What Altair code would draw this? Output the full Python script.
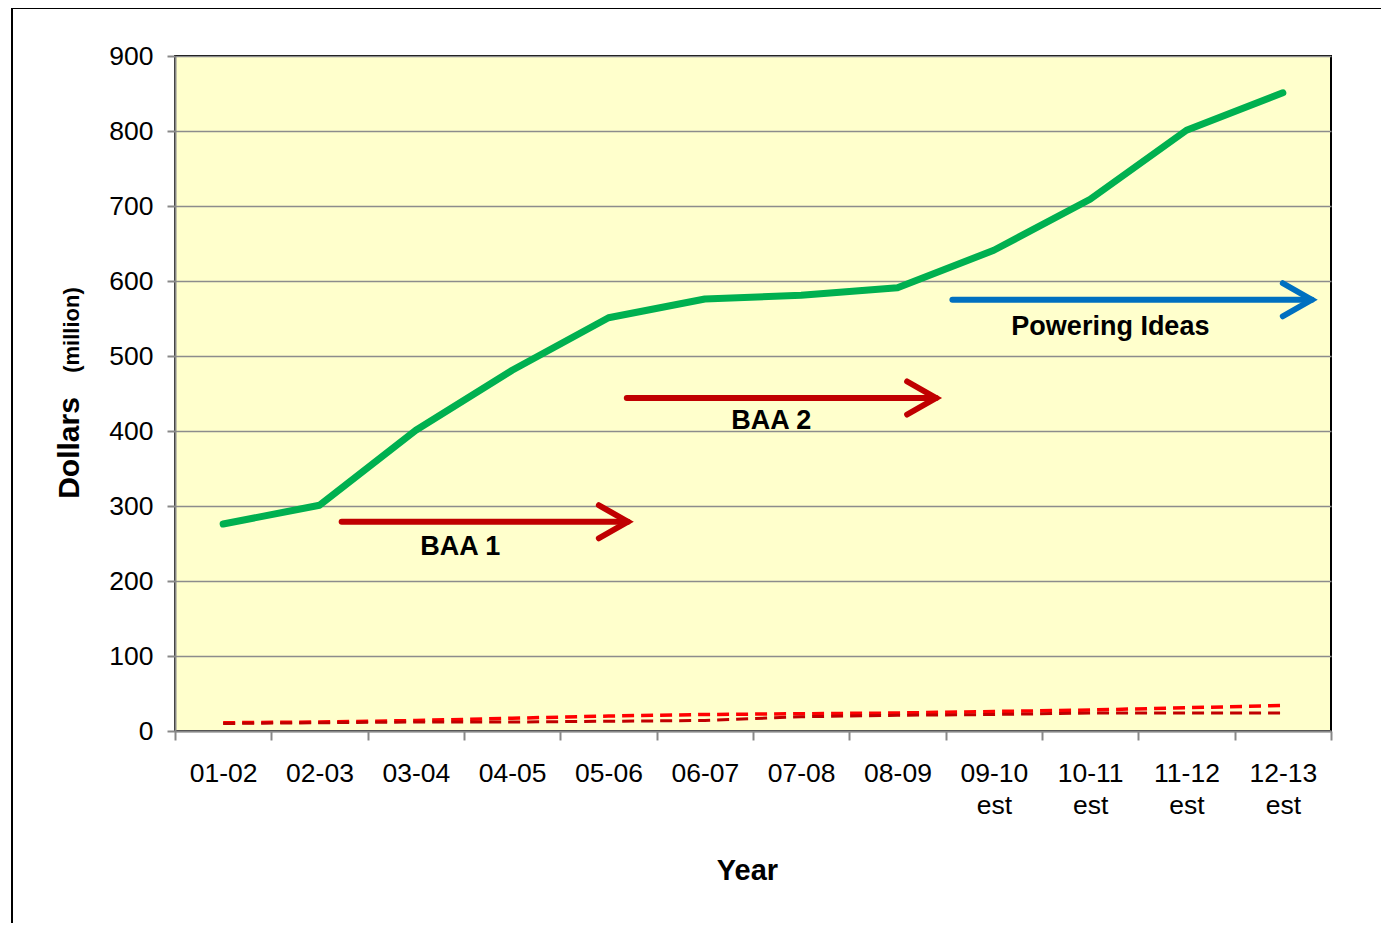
import altair as alt
import pandas as pd

years = ["01-02", "02-03", "03-04", "04-05", "05-06", "06-07", "07-08", "08-09",
         "09-10 est", "10-11 est", "11-12 est", "12-13 est"]
total = [276, 301, 401, 481, 551, 576, 581, 591, 641, 709, 801, 851]
series_bright = [11, 12, 14, 17, 20, 22, 23, 24, 26, 28, 31, 34]
series_dark = [10, 11, 12, 12, 13, 14, 19, 21, 22, 24, 24, 24]

# annotation arrows (x in category-index units, 0..12 across plot)
arrow_names = ["BAA 1", "BAA 2", "Powering Ideas"]
arrow_x0 = [1.73, 4.69, 8.07]
arrow_x1 = [4.70, 7.90, 11.80]
arrow_y = [279, 444, 575]
arrow_colors = ["#C00000", "#C00000", "#0070C0"]
label_x = [2.96, 6.19, 9.71]
label_y = [246, 413, 539]

W, H = 1156, 675
FONT = "Liberation Sans"

df = pd.DataFrame({"year": years, "total": total})
df_b = pd.DataFrame({"year": years, "v": series_bright})
df_d = pd.DataFrame({"year": years, "v": series_dark})

xs = alt.X("year:N", sort=years, title="Year",
           scale=alt.Scale(type="band", paddingInner=0, paddingOuter=0),
           axis=alt.Axis(labelAngle=0, labelExpr="split(datum.label, ' ')",
                         labelFontSize=26.5, labelLineHeight=32, labelPadding=20,
                         tickBand="extent", tickSize=9, tickColor="#888888", tickWidth=2,
                         domainColor="#888888", domainWidth=2, labelColor="#000000",
                         titleFontSize=29, titleFontWeight="bold", titlePadding=38,
                         titleX=572, titleColor="#000000", labelFont=FONT, titleFont=FONT,
                         grid=False))
ys = alt.Y("total:Q", title=None,
           scale=alt.Scale(domain=[0, 900], nice=False),
           axis=alt.Axis(values=list(range(0, 901, 100)), labelFontSize=26.5, labelPadding=14,
                         tickSize=8, tickColor="#888888", tickWidth=2,
                         domainColor="#888888", domainWidth=2, labelColor="#000000",
                         gridColor="#8c8c8c", gridWidth=1.5, labelFont=FONT))

line = alt.Chart(df).mark_line(color="#00B050", strokeWidth=7, strokeCap="round",
                               strokeJoin="round").encode(x=xs, y=ys)
bright = alt.Chart(df_b).mark_line(color="#FF0000", strokeWidth=3.5,
                                   strokeDash=[12, 7]).encode(
    x=alt.X("year:N", sort=years), y=alt.Y("v:Q"))
dark = alt.Chart(df_d).mark_line(color="#C00000", strokeWidth=3,
                                 strokeDash=[12, 7]).encode(
    x=alt.X("year:N", sort=years), y=alt.Y("v:Q"))

# arrows
rows = []
for i, n in enumerate(arrow_names):
    rows.append({"name": n, "part": "shaft", "ord": 0, "x": arrow_x0[i], "y": arrow_y[i]})
    rows.append({"name": n, "part": "shaft", "ord": 1, "x": arrow_x1[i], "y": arrow_y[i]})
    rows.append({"name": n, "part": "head", "ord": 0, "x": arrow_x1[i] - 0.3, "y": arrow_y[i] + 22})
    rows.append({"name": n, "part": "head", "ord": 1, "x": arrow_x1[i], "y": arrow_y[i]})
    rows.append({"name": n, "part": "head", "ord": 2, "x": arrow_x1[i] - 0.3, "y": arrow_y[i] - 22})
arr = pd.DataFrame(rows)
arr["key"] = arr["name"] + arr["part"]

qx = alt.X("x:Q", scale=alt.Scale(domain=[0, 12], nice=False), axis=None)
qy = alt.Y("y:Q", scale=alt.Scale(domain=[0, 900], nice=False), axis=None)
color_scale = alt.Scale(domain=arrow_names, range=arrow_colors)
arrows = alt.Chart(arr).mark_line(strokeWidth=6, strokeCap="round", strokeJoin="miter").encode(
    x=qx, y=qy, detail="key:N", order="ord:Q",
    color=alt.Color("name:N", scale=color_scale, legend=None))

lab = pd.DataFrame({"name": arrow_names, "x": label_x, "y": label_y})
labels = alt.Chart(lab).mark_text(font=FONT, fontSize=27, fontWeight="bold",
                                  color="#000000").encode(x=qx, y=qy, text="name:N")

# outer frame (only left and top edges fall inside the page)
frame_df = pd.DataFrame({"a": [0]})
frame_left = alt.Chart(frame_df).mark_rule(stroke="#000000", strokeWidth=2, clip=False).encode(
    x=alt.value(-163), y=alt.value(-48), y2=alt.value(1000))
frame_top = alt.Chart(frame_df).mark_rule(stroke="#000000", strokeWidth=2, clip=False).encode(
    x=alt.value(-163), x2=alt.value(1400), y=alt.value(-48))
ytitle1 = alt.Chart(frame_df).mark_text(font=FONT, fontSize=30, fontWeight="bold", angle=270,
                                        color="#000000").encode(
    x=alt.value(-105), y=alt.value(392), text=alt.value("Dollars"))
ytitle2 = alt.Chart(frame_df).mark_text(font=FONT, fontSize=22, fontWeight="bold", angle=270,
                                        color="#000000").encode(
    x=alt.value(-103), y=alt.value(274), text=alt.value("(million)"))

main = alt.layer(line, bright, dark)
annot = alt.layer(arrows, labels)
chart = alt.layer(main, annot, frame_left, frame_top, ytitle1, ytitle2).resolve_scale(
    x="independent", y="independent", color="independent"
).properties(
    width=W, height=H,
    autosize=alt.AutoSizeParams(type="none"),
    padding={"left": 167, "top": 48, "right": 50, "bottom": 192},
    background="#FFFFFF",
).configure_view(fill="#FFFFCC", stroke="#000000", strokeWidth=2)

chart.save("out.html", embed_options={"renderer": "svg", "actions": False})
